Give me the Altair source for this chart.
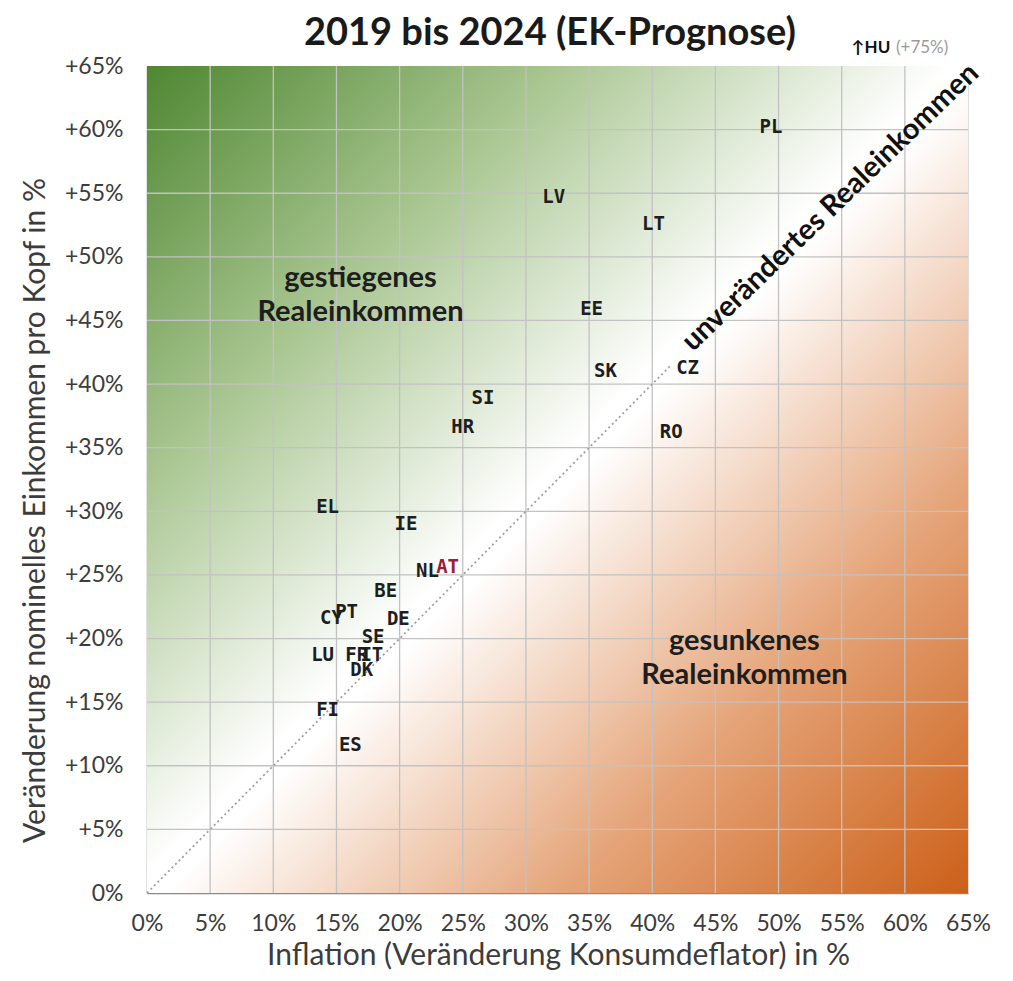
import altair as alt
import pandas as pd

# ---- data ----
countries = ["PL", "LV", "LT", "EE", "SK", "CZ", "SI", "HR", "RO", "EL", "IE", "NL",
             "AT", "BE", "CY", "PT", "DE", "SE", "LU", "FR", "IT", "DK", "FI", "ES"]
inflation = [49.4, 32.2, 40.1, 35.2, 36.3, 42.8, 26.6, 25.0, 41.5, 14.3, 20.5, 22.2,
             23.8, 18.9, 14.6, 15.8, 19.9, 17.9, 13.9, 16.6, 17.8, 17.0, 14.3, 16.1]
income = [60.2, 54.7, 52.6, 45.9, 41.0, 41.3, 38.9, 36.6, 36.2, 30.3, 29.0, 25.3,
          25.6, 23.7, 21.6, 22.1, 21.5, 20.1, 18.7, 18.7, 18.7, 17.5, 14.4, 11.6]

tick_values = [0, 5, 10, 15, 20, 25, 30, 35, 40, 45, 50, 55, 60, 65]
grid_values = [5, 10, 15, 20, 25, 30, 35, 40, 45, 50, 55, 60]

title_text = ["2019 bis 2024 (EK-Prognose)"]
title_x = [31.9]
title_y = [66.65]

region_text = ["gestiegenes\nRealeinkommen", "gesunkenes\nRealeinkommen"]
region_x = [16.9, 47.3]
region_y = [48.3, 19.8]

diag_text = ["unverändertes Realeinkommen"]
diag_x = [54.1]
diag_y = [53.9]
diag_line = [0, 41.5]

hu_label = ["↑HU"]
hu_note = ["(+75%)"]
hu_x = [55.8]
hu_note_x = [59.3]
hu_y = [66.45]

# ---- tables ----
pts = pd.DataFrame({"x": inflation, "y": income, "country": countries})
bg = pd.DataFrame({"x": [tick_values[0]], "x2": [tick_values[-1]],
                   "y": [tick_values[0]], "y2": [tick_values[-1]]})
grid = pd.DataFrame({"v": grid_values})
regions = pd.DataFrame({"x": region_x, "y": region_y, "t": region_text})
diag_lbl = pd.DataFrame({"x": diag_x, "y": diag_y, "t": diag_text})
diag = pd.DataFrame({"x": diag_line, "y": diag_line})
hu1 = pd.DataFrame({"x": hu_x, "y": hu_y, "t": hu_label})
hu2 = pd.DataFrame({"x": hu_note_x, "y": hu_y, "t": hu_note})
ttl = pd.DataFrame({"x": title_x, "y": title_y, "t": title_text})

FONT = "Lato"
AXC = "#3c3c3c"

xscale = alt.Scale(domain=[0, 65], nice=False, zero=False)
yscale = alt.Scale(domain=[0, 65], nice=False, zero=False)

xaxis = alt.Axis(values=tick_values, labelExpr="datum.value + '%'", grid=False, ticks=False,
                 domainColor="#8a8a8a", domainWidth=1.5, labelFlush=False, labelOverlap=False,
                 labelFont=FONT, labelFontSize=23, labelColor=AXC, labelPadding=19,
                 title="Inflation (Veränderung Konsumdeflator) in %",
                 titleFont=FONT, titleFontSize=30, titleFontWeight="normal", titleColor=AXC,
                 titleX=411, titleY=62, titleAlign="center", titleBaseline="middle")
yaxis = alt.Axis(values=tick_values,
                 labelExpr="datum.value == 0 ? '0%' : '+' + datum.value + '%'",
                 grid=False, ticks=False, domainColor="#8a8a8a", domainWidth=1.5,
                 labelFlush=False, labelOverlap=False,
                 labelFont=FONT, labelFontSize=23, labelColor=AXC, labelPadding=24,
                 title="Veränderung nominelles Einkommen pro Kopf in %",
                 titleFont=FONT, titleFontSize=30, titleFontWeight="normal", titleColor=AXC,
                 titleX=-112, titleY=444, titleAngle=270, titleAlign="center",
                 titleBaseline="middle")

X = alt.X("x:Q", scale=xscale, axis=xaxis)
Y = alt.Y("y:Q", scale=yscale, axis=yaxis)

gradient = alt.Gradient(
    gradient="linear", x1=0, y1=0, x2=1, y2=1,
    stops=[alt.GradientStop(offset=0, color="#4f8732"),
           alt.GradientStop(offset=0.25, color="#a9c691"),
           alt.GradientStop(offset=0.49, color="#ffffff"),
           alt.GradientStop(offset=0.51, color="#ffffff"),
           alt.GradientStop(offset=0.75, color="#e5a57a"),
           alt.GradientStop(offset=1, color="#cc6018")])

bg_layer = alt.Chart(bg).mark_rect(fill=gradient).encode(
    x=X, x2="x2:Q", y=Y, y2="y2:Q")

vgrid = alt.Chart(grid).mark_rule(color="#c2c2c2", strokeWidth=1.3).encode(
    x=alt.X("v:Q", scale=xscale, axis=xaxis))
hgrid = alt.Chart(grid).mark_rule(color="#c2c2c2", strokeWidth=1.3).encode(
    y=alt.Y("v:Q", scale=yscale, axis=yaxis))

diag_layer = alt.Chart(diag).mark_line(color="#a0a0a0", strokeWidth=1.8,
                                       strokeDash=[2, 3]).encode(x=X, y=Y)

labels = alt.Chart(pts).mark_text(font="DejaVu Sans Mono", fontWeight="bold", fontSize=19,
                                  align="center", baseline="middle").encode(
    x=X, y=Y, text="country:N",
    color=alt.condition(alt.datum.country == "AT", alt.value("#9b1c3c"), alt.value("#1e1e1e")))

region_layer = alt.Chart(regions).mark_text(font=FONT, fontWeight="bold", fontSize=29,
                                            lineBreak="\n", lineHeight=34, align="center",
                                            baseline="middle", color="#1e1e1e").encode(
    x=X, y=Y, text="t:N")

diag_lbl_layer = alt.Chart(diag_lbl).mark_text(font=FONT, fontWeight="bold", fontSize=29,
                                               angle=316, align="center", baseline="middle",
                                               color="#111111").encode(x=X, y=Y, text="t:N")

hu1_layer = alt.Chart(hu1).mark_text(font=FONT, fontWeight="bold", fontSize=17, align="left",
                                     baseline="middle", color="#111111").encode(
    x=X, y=Y, text="t:N")
hu2_layer = alt.Chart(hu2).mark_text(font=FONT, fontSize=17, align="left",
                                     baseline="middle", color="#9a9a9a").encode(
    x=X, y=Y, text="t:N")

title_layer = alt.Chart(ttl).mark_text(font=FONT, fontWeight="bold", fontSize=38,
                                       align="center", baseline="alphabetic",
                                       color="#1a1a1a").encode(x=X, y=Y, text="t:N")

chart = alt.layer(bg_layer, vgrid, hgrid, diag_layer, labels, region_layer,
                  diag_lbl_layer, hu1_layer, hu2_layer, title_layer).properties(
    width=821, height=827,
    autosize=alt.AutoSizeParams(type="none"),
    padding={"left": 139, "top": 58, "right": 30, "bottom": 80},
).configure_view(stroke="#a5a5a5", strokeWidth=1.2).configure(background="white")

chart.save("out.html", embed_options={"renderer": "svg", "actions": False})
